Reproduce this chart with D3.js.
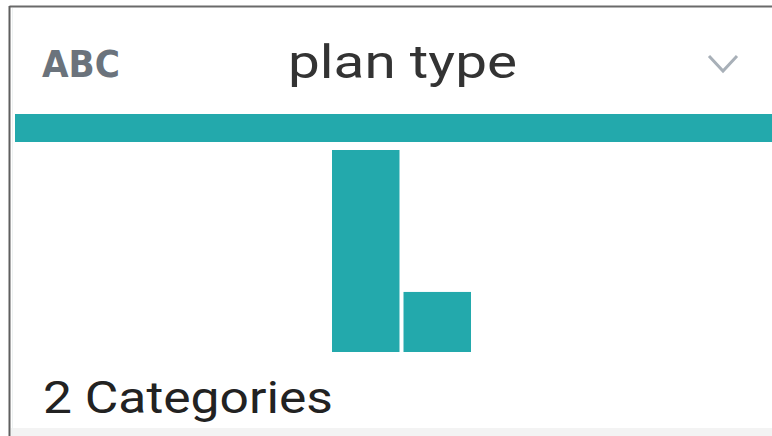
<!DOCTYPE html>
<html>
<head>
<meta charset="utf-8">
<script src="https://cdn.jsdelivr.net/npm/d3@7"></script>
<style>
  body { margin: 0; background: #fff; }
  svg { display: block; }
</style>
</head>
<body>
<script>
// column profile card: "plan type"
const columnName = "plan type";
const columnType = "ABC";
const categories = ["Basic", "Premium"];
const counts = [74, 22];
const validShare = [1.0]; // share of valid values shown in the top band

const width = 772;
const height = 436;
const teal = "#23a9ac";

const svg = d3.select("body")
  .append("svg")
  .attr("width", width)
  .attr("height", height);

// card frame
svg.append("rect")
  .attr("x", 11).attr("y", 428)
  .attr("width", width - 11).attr("height", 8)
  .attr("fill", "#f3f3f3");
svg.append("line")
  .attr("x1", 9.5).attr("x2", width)
  .attr("y1", 6.5).attr("y2", 6.5)
  .attr("stroke", "#6a6a6a").attr("stroke-width", 2);
svg.append("line")
  .attr("x1", 9.5).attr("x2", 9.5)
  .attr("y1", 6).attr("y2", height)
  .attr("stroke", "#5f5f5f").attr("stroke-width", 2);
svg.append("line")
  .attr("x1", 12.5).attr("x2", 12.5)
  .attr("y1", 8).attr("y2", height)
  .attr("stroke", "#eef2f2").attr("stroke-width", 1);

// header
svg.append("text")
  .attr("x", 42).attr("y", 77)
  .attr("font-family", "'DejaVu Sans Condensed', 'DejaVu Sans', sans-serif")
  .attr("font-weight", "bold")
  .attr("font-size", 38)
  .attr("textLength", 78)
  .attr("lengthAdjust", "spacingAndGlyphs")
  .attr("fill", "#6b737c")
  .text(columnType);

svg.append("text")
  .attr("x", 288).attr("y", 78)
  .attr("font-family", "Roboto, sans-serif")
  .attr("font-size", 46)
  .attr("textLength", 229)
  .attr("lengthAdjust", "spacingAndGlyphs")
  .attr("fill", "#333")
  .text(columnName);

svg.append("path")
  .attr("d", "M709,56 L723,71 L737,56")
  .attr("fill", "none")
  .attr("stroke", "#a8b0b8")
  .attr("stroke-width", 3);

// valid band
const band = d3.scaleLinear().domain([0, 1]).range([15, width]);
svg.selectAll(".valid")
  .data(validShare)
  .enter()
  .append("rect")
  .attr("class", "valid")
  .attr("x", band(0))
  .attr("y", 114)
  .attr("width", (d) => band(d) - band(0))
  .attr("height", 28)
  .attr("fill", teal);

// histogram
const x = d3.scaleBand()
  .domain(categories)
  .range([332, 471])
  .paddingInner(0.056);

const y = d3.scaleLinear()
  .domain([0, d3.max(counts)])
  .range([352, 150]);

svg.selectAll(".bar")
  .data(categories)
  .enter()
  .append("rect")
  .attr("class", "bar")
  .attr("x", (c) => x(c))
  .attr("y", (c, i) => y(counts[i]))
  .attr("width", x.bandwidth())
  .attr("height", (c, i) => y(0) - y(counts[i]))
  .attr("fill", teal);

svg.append("text")
  .attr("x", 43).attr("y", 413)
  .attr("font-family", "Roboto, sans-serif")
  .attr("font-size", 44)
  .attr("textLength", 290)
  .attr("lengthAdjust", "spacingAndGlyphs")
  .attr("fill", "#222")
  .text(categories.length + " Categories");
</script>
</body>
</html>
